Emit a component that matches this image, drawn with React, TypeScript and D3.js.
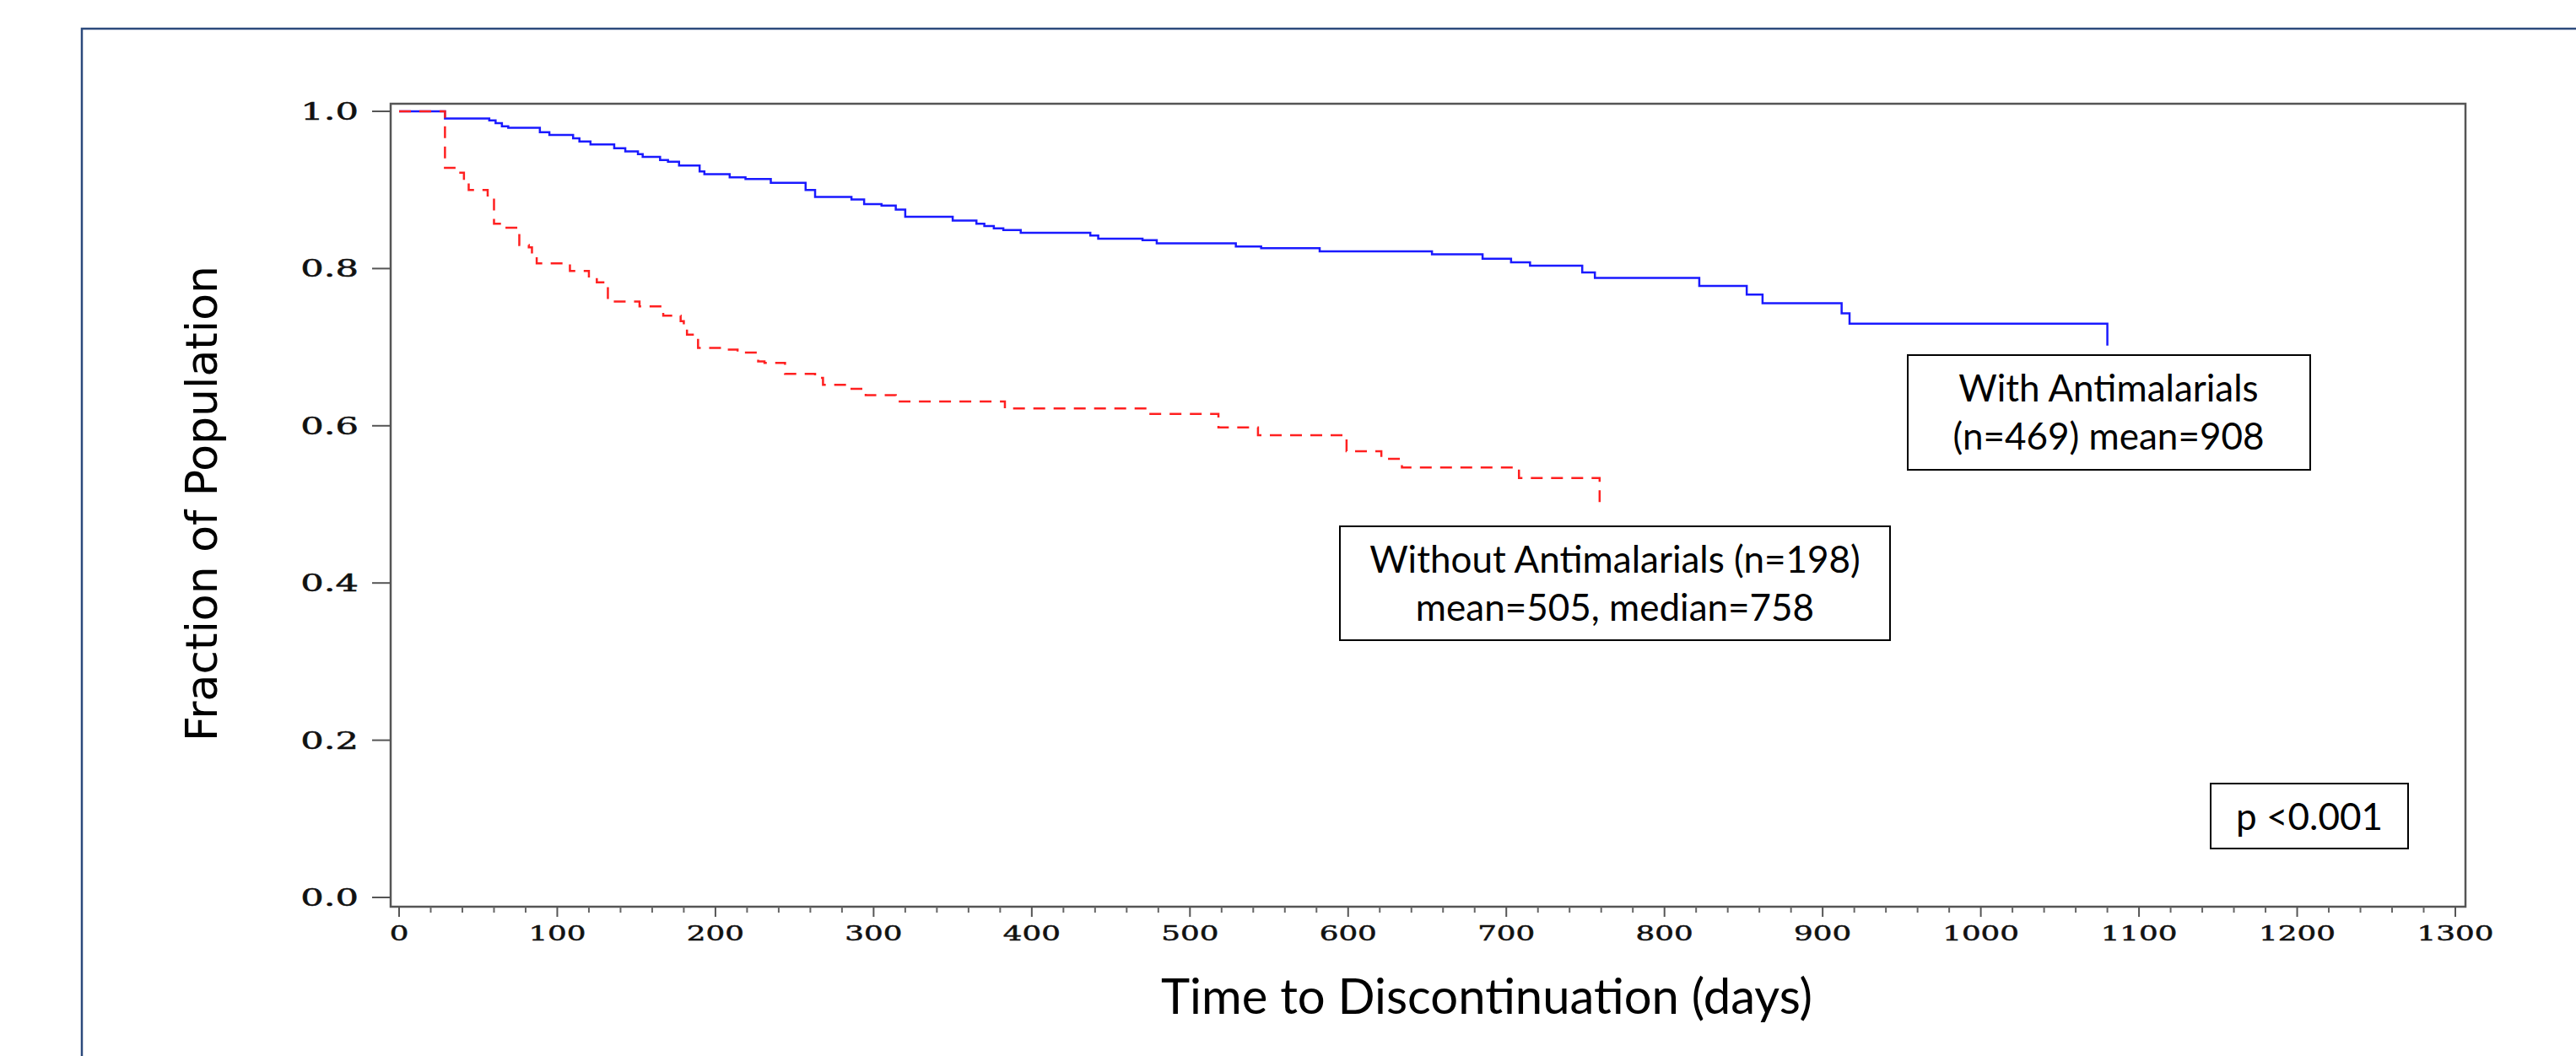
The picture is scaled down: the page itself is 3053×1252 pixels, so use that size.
import React from 'react';
import * as d3 from 'd3';

// Kaplan-Meier steps (days, fraction remaining)
const withDays = [0, 29, 57, 61, 65, 69, 89, 95, 110, 114, 121, 136, 143, 151, 154, 165, 170, 177, 190, 193, 209, 219, 235, 257, 263, 286, 294, 305, 314, 320, 350, 365, 370, 376, 382, 393, 437, 442, 470, 479, 529, 545, 582, 653, 685, 703, 715, 748, 756, 822, 852, 862, 912, 917, 1080];
const withSurv = [1.0, 0.991, 0.9885, 0.985, 0.981, 0.979, 0.9735, 0.97, 0.9657, 0.9617, 0.958, 0.953, 0.949, 0.9456, 0.942, 0.938, 0.936, 0.931, 0.9235, 0.92, 0.916, 0.914, 0.909, 0.9, 0.891, 0.888, 0.882, 0.88, 0.875, 0.866, 0.861, 0.857, 0.854, 0.851, 0.849, 0.8455, 0.842, 0.838, 0.836, 0.832, 0.828, 0.826, 0.822, 0.818, 0.8126, 0.808, 0.8036, 0.795, 0.788, 0.778, 0.767, 0.756, 0.743, 0.73, 0.702];

const withoutDays = [0, 29, 37, 41, 44, 56, 60, 67, 75, 76, 82, 84, 87, 108, 120, 125, 131, 132, 152, 166, 167, 178, 180, 182, 189, 207, 214, 227, 231, 244, 263, 268, 283, 295, 314, 383, 475, 518, 543, 599, 621, 634, 708, 759];
const withoutSurv = [1.0, 0.928, 0.922, 0.912, 0.9, 0.893, 0.857, 0.852, 0.847, 0.83, 0.827, 0.818, 0.8065, 0.797, 0.788, 0.7825, 0.777, 0.758, 0.752, 0.749, 0.74, 0.733, 0.725, 0.716, 0.699, 0.697, 0.693, 0.682, 0.68, 0.666, 0.661, 0.652, 0.647, 0.639, 0.631, 0.622, 0.615, 0.598, 0.588, 0.5676, 0.558, 0.547, 0.5336, 0.494];

const xTicks = [0, 100, 200, 300, 400, 500, 600, 700, 800, 900, 1000, 1100, 1200, 1300];
const yTicks = [0, 0.2, 0.4, 0.6, 0.8, 1.0];

const withLabel = ['With Antimalarials', '(n=469) mean=908'];
const withoutLabel = ['Without Antimalarials (n=198)', 'mean=505, median=758'];
const pLabel = 'p <0.001';

const W = 3053;
const H = 1252;

const App = () => {
  const x = d3.scaleLinear().domain([0, 1300]).range([473, 2910]);
  const y = d3.scaleLinear().domain([0, 1]).range([1064, 132]);
  const plot = { left: 463, right: 2922, top: 123, bottom: 1075 };

  const line = d3.line<[number, number]>()
    .x(d => x(d[0]))
    .y(d => y(d[1]))
    .curve(d3.curveStepAfter);

  const withPts = withDays.map((t, i) => [t, withSurv[i]] as [number, number]);
  const withoutPts = withoutDays.map((t, i) => [t, withoutSurv[i]] as [number, number]);

  const minorTicks = d3.range(0, 1301, 20).filter(t => t % 100 !== 0);
  // SAS-style wide serif digits
  const xTickFont = { fontFamily: '"DejaVu Serif"', fontSize: 23.5, fill: '#111', stroke: '#111', strokeWidth: 0.5 };
  const yTickFont = { fontFamily: '"DejaVu Serif"', fontSize: 27, fill: '#111', stroke: '#111', strokeWidth: 0.5 };
  const labelFont = { fontFamily: 'Lato', fontSize: 44, fill: '#000' };

  return (
    <div style={{ position: 'absolute', left: 0, top: 0, background: '#fff' }}>
      <svg width={W} height={H} viewBox={`0 0 ${W} ${H}`}>
        <rect width={W} height={H} fill="#fff" />
        {/* outer slide frame */}
        <path d={`M97,${H + 5} V34 H${W + 5}`} fill="none" stroke="#2c4a7c" strokeWidth={2.5} />

        {/* plot frame */}
        <rect x={plot.left} y={plot.top} width={plot.right - plot.left} height={plot.bottom - plot.top}
          fill="none" stroke="#555" strokeWidth={2.5} />

        {/* y axis */}
        {yTicks.map(v => (
          <g key={v}>
            <line x1={441} x2={plot.left} y1={y(v)} y2={y(v)} stroke="#555" strokeWidth={2} />
            <text transform={`translate(425,${y(v) + 10}) scale(1.6,1)`} textAnchor="end" style={yTickFont}>
              {v.toFixed(1)}
            </text>
          </g>
        ))}

        {/* x axis */}
        {minorTicks.map(t => (
          <line key={t} x1={x(t)} x2={x(t)} y1={plot.bottom} y2={plot.bottom + 7} stroke="#666" strokeWidth={2} />
        ))}
        {xTicks.map(t => (
          <g key={t}>
            <line x1={x(t)} x2={x(t)} y1={plot.bottom} y2={plot.bottom + 12} stroke="#555" strokeWidth={2} />
            <text transform={`translate(${x(t)},1115) scale(1.52,1)`} textAnchor="middle" style={xTickFont}>
              {t}
            </text>
          </g>
        ))}

        {/* curves */}
        <path d={line(withPts) || ''} fill="none" stroke="#1a1aff" strokeWidth={2.5} />
        <path d={line(withoutPts) || ''} fill="none" stroke="#ff2020" strokeWidth={2.5} strokeDasharray="14,10" />

        {/* axis titles */}
        <text x={1762} y={1202} textAnchor="middle" style={{ fontFamily: 'Lato', fontSize: 58, fill: '#000' }}>
          Time to Discontinuation (days)
        </text>
        <text transform="translate(257,597) rotate(-90)" textAnchor="middle"
          style={{ fontFamily: '"DejaVu Sans"', fontSize: 52, fill: '#000' }}>
          Fraction of Population
        </text>

        {/* annotation boxes */}
        <rect x={2261} y={421} width={477} height={136} fill="#fff" stroke="#000" strokeWidth={2} />
        {withLabel.map((s, i) => (
          <text key={s} x={2499} y={476 + i * 57} textAnchor="middle" style={labelFont}>{s}</text>
        ))}

        <rect x={1588} y={624} width={652} height={135} fill="#fff" stroke="#000" strokeWidth={2} />
        {withoutLabel.map((s, i) => (
          <text key={s} x={1914} y={679 + i * 57} textAnchor="middle" style={labelFont}>{s}</text>
        ))}

        <rect x={2620} y={929} width={234} height={77} fill="#fff" stroke="#000" strokeWidth={2} />
        <text x={2737} y={984} textAnchor="middle" style={labelFont}>{pLabel}</text>
      </svg>
    </div>
  );
};

export default App;
